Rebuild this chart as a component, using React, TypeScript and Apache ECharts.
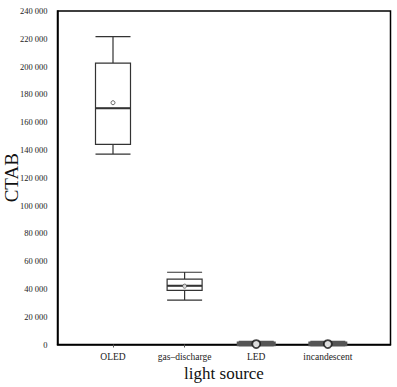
import React, { useEffect, useRef } from "react";
import * as echarts from "echarts";

const categories = ["OLED", "gas\u2013discharge", "LED", "incandescent"];
const categoryPos = [1, 2, 3, 4];
// [min, Q1, median, Q3, max]
const boxValues = [
  [137000, 144000, 170000, 202500, 221500],
  [32000, 39000, 42300, 47000, 52000],
  [0, 150, 400, 700, 1200],
  [0, 150, 400, 700, 1200],
];
const means = [174000, 42000, 300, 300];

const fmt = (v: number) => String(v).replace(/\B(?=(\d{3})+(?!\d))/g, " ");

export default function App() {
  const ref = useRef<HTMLDivElement>(null);
  useEffect(() => {
    document.body.style.margin = "0";
    const chart = echarts.init(ref.current!, null, { renderer: "svg" });
    const font = "Liberation Serif";
    chart.setOption({
      animation: false,
      backgroundColor: "#fff",
      textStyle: { fontFamily: font },
      grid: {
        left: 57.5,
        right: 6.5,
        top: 11,
        bottom: 42.5,
        containLabel: false,
        outerBoundsMode: "none",
        show: true,
        borderColor: "#000",
        borderWidth: 1.5,
        backgroundColor: "transparent",
      },
      xAxis: {
        type: "value",
        min: 0.225,
        max: 4.875,
        splitLine: { show: false },
        axisLine: { show: true, onZero: false, lineStyle: { color: "#000", width: 1.5 } },
        axisTick: { show: true, length: 3, customValues: categoryPos, lineStyle: { color: "#555" } },
        axisLabel: {
          customValues: categoryPos,
          formatter: (v: number) => categories[Math.round(v) - 1] ?? "",
          fontFamily: font,
          fontSize: 9.5,
          color: "#222",
          margin: 7,
        },
        name: "light source",
        nameLocation: "middle",
        nameGap: 20,
        nameMoveOverlap: false,
        nameTextStyle: { fontFamily: font, fontSize: 17, color: "#111" },
      },
      yAxis: {
        type: "value",
        min: 0,
        max: 240000,
        interval: 20000,
        splitLine: { show: false },
        axisLine: { show: true, lineStyle: { color: "#000", width: 1.5 } },
        axisTick: { show: false },
        axisLabel: {
          formatter: (v: number) => fmt(v),
          fontFamily: font,
          fontSize: 8.5,
          color: "#222",
          margin: 10,
        },
        name: "CTAB",
        nameLocation: "middle",
        nameGap: 37,
        nameMoveOverlap: false,
        nameTextStyle: { fontFamily: font, fontSize: 19, color: "#111" },
      },
      series: [
        {
          type: "boxplot",
          boxWidth: [35, 35],
          itemStyle: { color: "#fff", borderColor: "#333", borderWidth: 1.2 },
          data: boxValues.map((b, i) => {
            const item: any = { value: [categoryPos[i], ...b] };
            if (i >= 2) item.itemStyle = { color: "#555", borderColor: "#555", borderWidth: 4 };
            return item;
          }),
          z: 2,
        },
        {
          type: "custom",
          z: 3,
          data: boxValues.slice(0, 2).map((b, i) => [categoryPos[i], b[2]]),
          renderItem: (params: any, api: any) => {
            const p = api.coord([api.value(0), api.value(1)]);
            return {
              type: "line",
              shape: { x1: p[0] - 17.5, y1: p[1], x2: p[0] + 17.5, y2: p[1] },
              style: { stroke: "#333", lineWidth: 2 },
            };
          },
        },
        {
          type: "scatter",
          symbol: "circle",
          z: 5,
          data: means.map((m, i) => ({
            value: [categoryPos[i], m],
            symbolSize: i >= 2 ? 8 : 4,
            itemStyle: { color: "#fff", borderColor: i >= 2 ? "#111" : "#444", borderWidth: i >= 2 ? 1.8 : 1 },
          })),
        },
      ],
    });
    return () => chart.dispose();
  }, []);
  return <div ref={ref} style={{ width: 397, height: 387 }} />;
}
